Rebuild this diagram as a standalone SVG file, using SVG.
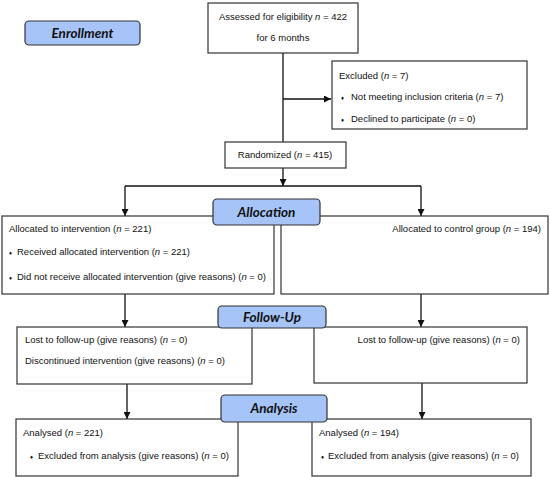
<svg xmlns="http://www.w3.org/2000/svg" width="550" height="477" viewBox="0 0 550 477">
<style>
.box{fill:#fff;stroke:#333;stroke-width:1.2}
.lab{fill:#a6c4f8;stroke:#333;stroke-width:1.2}
.t{font-family:"Liberation Sans",Arial,sans-serif;font-size:9.5px;fill:#111}
.b{font-size:6px}
.h{font-family:Lato,"Open Sans",sans-serif;font-weight:bold;font-style:italic;font-size:13.5px;fill:#111;text-anchor:middle}
.c{fill:none;stroke:#111;stroke-width:1.3}
</style>
<defs>
<marker id="ar" viewBox="0 0 10 10" refX="10" refY="5" markerWidth="7" markerHeight="7" markerUnits="userSpaceOnUse" orient="auto">
<path d="M0,0 L10,5 L0,10 z" fill="#111"/>
</marker>
</defs>
<rect width="550" height="477" fill="#fff"/>
<g id="connectors">
<path class="c" d="M283,53 V142"/>
<path class="c" d="M283,99 H331" marker-end="url(#ar)"/>
<path class="c" d="M283,168 V186" marker-end="url(#ar)"/>
<path class="c" d="M125,186 H421"/>
<path class="c" d="M125,186 V216" marker-end="url(#ar)"/>
<path class="c" d="M421,186 V216" marker-end="url(#ar)"/>
<path class="c" d="M125,294 V327" marker-end="url(#ar)"/>
<path class="c" d="M421,294 V327" marker-end="url(#ar)"/>
<path class="c" d="M127,384 V419" marker-end="url(#ar)"/>
<path class="c" d="M422,383 V419" marker-end="url(#ar)"/>
</g>
<g id="assessed">
<rect class="box" x="208" y="3" width="150" height="50"/>
<text class="t" x="283" y="20" text-anchor="middle">Assessed for eligibility <tspan font-style="italic">n</tspan> = 422</text>
<text class="t" x="283" y="41" text-anchor="middle">for 6 months</text>
</g>
<g id="excluded">
<rect class="box" x="332" y="61" width="195" height="68"/>
<text class="t" x="339" y="79">Excluded (<tspan font-style="italic">n</tspan> = 7)</text>
<text class="t b" x="341" y="100">♦</text>
<text class="t" x="351" y="100">Not meeting inclusion criteria (<tspan font-style="italic">n</tspan> = 7)</text>
<text class="t b" x="341" y="122">♦</text>
<text class="t" x="351" y="122">Declined to participate (<tspan font-style="italic">n</tspan> = 0)</text>
</g>
<g id="randomized">
<rect class="box" x="225" y="142" width="121" height="26"/>
<text class="t" x="285" y="158" text-anchor="middle">Randomized (<tspan font-style="italic">n</tspan> = 415)</text>
</g>
<g id="alloc-intervention">
<rect class="box" x="2" y="216" width="272" height="78"/>
<text class="t" x="9" y="232">Allocated to intervention (<tspan font-style="italic">n</tspan> = 221)</text>
<text class="t b" x="9" y="255">♦</text>
<text class="t" x="17" y="255">Received allocated intervention (<tspan font-style="italic">n</tspan> = 221)</text>
<text class="t b" x="9" y="280">♦</text>
<text class="t" x="17" y="280">Did not receive allocated intervention (give reasons) (<tspan font-style="italic">n</tspan> = 0)</text>
</g>
<g id="alloc-control">
<rect class="box" x="281" y="216" width="267" height="78"/>
<text class="t" x="541" y="232" text-anchor="end">Allocated to control group (<tspan font-style="italic">n</tspan> = 194)</text>
</g>
<g id="followup-intervention">
<rect class="box" x="17" y="327" width="235" height="57"/>
<text class="t" x="25" y="343">Lost to follow-up (give reasons) (<tspan font-style="italic">n</tspan> = 0)</text>
<text class="t" x="25" y="364">Discontinued intervention (give reasons) (<tspan font-style="italic">n</tspan> = 0)</text>
</g>
<g id="followup-control">
<rect class="box" x="314" y="327" width="213" height="56"/>
<text class="t" x="520" y="343" text-anchor="end">Lost to follow-up (give reasons) (<tspan font-style="italic">n</tspan> = 0)</text>
</g>
<g id="analysed-intervention">
<rect class="box" x="16" y="419" width="222" height="57"/>
<text class="t" x="23" y="436">Analysed (<tspan font-style="italic">n</tspan> = 221)</text>
<text class="t b" x="30" y="459">♦</text>
<text class="t" x="38" y="459">Excluded from analysis (give reasons) (<tspan font-style="italic">n</tspan> = 0)</text>
</g>
<g id="analysed-control">
<rect class="box" x="312" y="419" width="219" height="57"/>
<text class="t" x="319" y="436">Analysed (<tspan font-style="italic">n</tspan> = 194)</text>
<text class="t b" x="321" y="459">♦</text>
<text class="t" x="328" y="459">Excluded from analysis (give reasons) (<tspan font-style="italic">n</tspan> = 0)</text>
</g>
<g id="enrollment">
<rect class="lab" x="25" y="21" width="115" height="24" rx="4"/>
<text class="h" x="82.5" y="38">Enrollment</text>
</g>
<g id="allocation">
<rect class="lab" x="213" y="199" width="107" height="26" rx="4"/>
<text class="h" x="266.5" y="217">Allocation</text>
</g>
<g id="follow-up">
<rect class="lab" x="218" y="306" width="108" height="22" rx="4"/>
<text class="h" x="272" y="322">Follow-Up</text>
</g>
<g id="analysis">
<rect class="lab" x="221" y="395" width="106" height="27" rx="4"/>
<text class="h" x="274" y="413">Analysis</text>
</g>
</svg>
